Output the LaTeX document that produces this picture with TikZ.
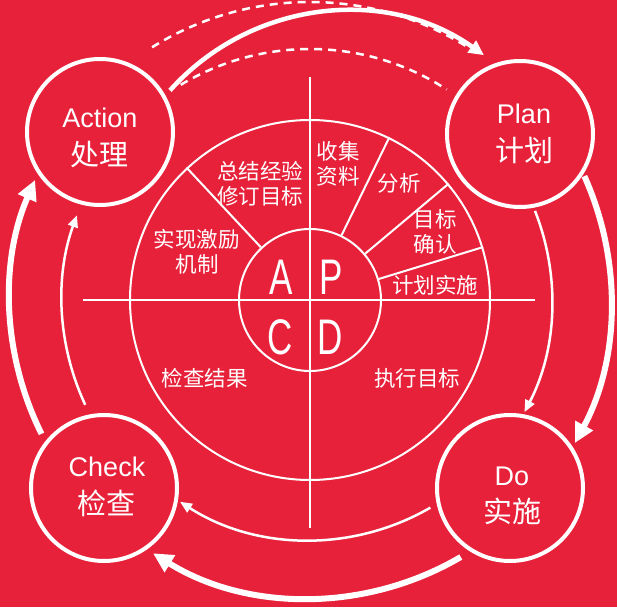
\documentclass[tikz,border=0pt]{standalone}
\usepackage{fontspec}
\setmainfont{Liberation Sans}
\newfontfamily\cjk{Noto Sans CJK SC}
\usepackage{graphicx}
\definecolor{pdcared}{HTML}{E8213A}
\usetikzlibrary{arrows.meta}
\newcommand{\zh}[1]{{\cjk\fontsize{29}{37.5}\selectfont #1}}
\newcommand{\apcd}[1]{\scalebox{0.7}[1]{#1}}

\begin{document}
\begin{tikzpicture}[x=1pt,y=1pt,
  wline/.style={white,line width=2pt},
  corner/.style={circle,draw=white,line width=4pt,minimum size=146pt,inner sep=0pt},
  cornertxt/.style={text=white,align=center,font=\fontsize{27}{37.5}\selectfont},
  phase/.style={text=white,align=center,font=\cjk\fontsize{21.5}{25}\selectfont},
  apcdtxt/.style={text=white,inner sep=0pt,font=\fontsize{50}{50}\selectfont},
  thickarr/.style={white,line width=6pt,-{Triangle[length=20pt,width=19pt]}},
  thinarr/.style={white,line width=2.5pt,-{Triangle[length=12pt,width=10pt]}},
  dashline/.style={white,line width=2.5pt,dash pattern=on 8pt off 6pt}]
  \fill[pdcared] (-310,-307) rectangle (307,300);
  \useasboundingbox (-310,-307) rectangle (307,300);
  \node[circle,draw=white,line width=2pt,minimum size=360pt] (ring) at (0,0) {};
  \node[circle,draw=white,line width=2pt,minimum size=142pt] (core) at (0,0) {};
  \draw[wline] (-227,0) -- (225,0);
  \draw[wline] (0,223) -- (0,-228);
  \foreach \a in {133,64.5,40.5,17} \draw[wline] (core.\a) -- (ring.\a);
  \node[apcdtxt] (la) at (-29,23) {\apcd{A}};
  \node[apcdtxt] (lp) at (21,23) {\apcd{P}};
  \node[apcdtxt] (lc) at (-30,-37) {\apcd{C}};
  \node[apcdtxt] (ld) at (20,-37) {\apcd{D}};
  \node[phase] (p1) at (28,136) {收集\\资料};
  \node[phase] (p2) at (89,117) {分析};
  \node[phase] (p3) at (125,68) {目标\\确认};
  \node[phase] (p4) at (125,15) {计划实施};
  \node[phase] (a1) at (-50,116) {总结经验\\修订目标};
  \node[phase] (a2) at (-113,48) {实现激励\\机制};
  \node[phase] (c1) at (-105,-78) {检查结果};
  \node[phase] (d1) at (107,-78) {执行目标};
  \node[corner] (act) at (-210,168) {};
  \node[corner] (plan) at (210,166) {};
  \node[corner] (chk) at (-206,-188) {};
  \node[corner] (do) at (200,-188) {};
  \node[cornertxt] (acttxt) at (-210,162) {Action\\\zh{处理}};
  \node[cornertxt] (plantxt) at (214,166) {Plan\\\zh{计划}};
  \node[cornertxt] (chktxt) at (-203,-187) {Check\\\zh{检查}};
  \node[cornertxt] (dotxt) at (202,-196) {Do\\\zh{实施}};
  \foreach \s/\e/\r/\k in {206.5/156.4/300/thickarr,205/160/248/thinarr,
      24.3/-28.4/301/thickarr,21.6/-27.6/242/thinarr,
      -59.6/-121.8/298/thickarr,-59.9/-122.8/240/thinarr,
      122/57/298/dashline,121/57/251/dashline}
    \draw[\k] (\s:\r) arc[start angle=\s,end angle=\e,radius=\r];
  \draw[white,line width=4.5pt,-{Triangle[length=15pt,width=14pt]}] (-140,209.6) arc[start angle=138.2,end angle=54.6,radius=237];
\end{tikzpicture}
\end{document}
